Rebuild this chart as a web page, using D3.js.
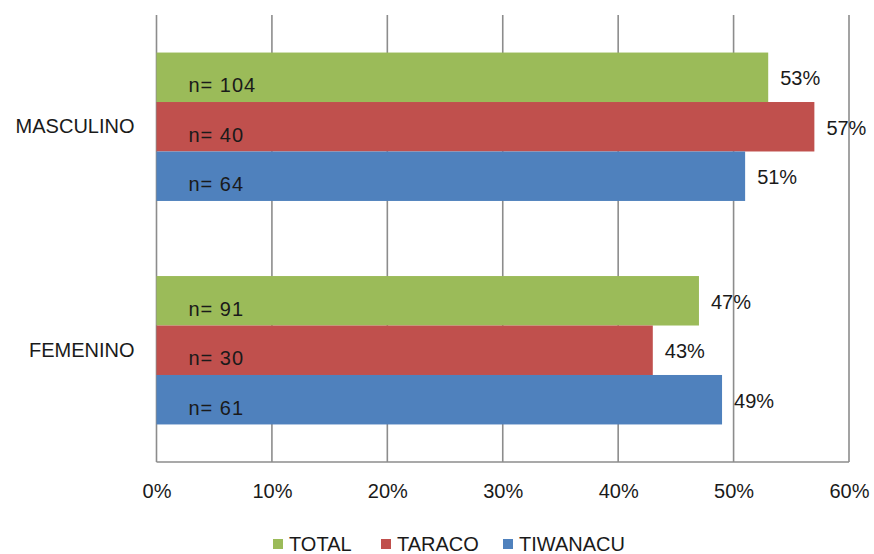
<!DOCTYPE html>
<html><head><meta charset="utf-8">
<script src="https://cdn.jsdelivr.net/npm/d3@7"></script>
<style>
html,body{margin:0;padding:0;background:#fff;}
svg text{font-family:"Liberation Sans",Arial,sans-serif;fill:#1a1a1a;}
</style></head>
<body>
<svg id="c" width="874" height="554"></svg>
<script>
const categories = ["MASCULINO", "FEMENINO"];
const series = ["TOTAL", "TARACO", "TIWANACU"];
const colors = ["#9BBB59", "#C0504D", "#4F81BD"];
const totalValues = [53, 47];
const taracoValues = [57, 43];
const tiwanacuValues = [51, 49];
const totalN = [104, 91];
const taracoN = [40, 30];
const tiwanacuN = [64, 61];
const xTicks = [0, 10, 20, 30, 40, 50, 60];

const valuesBySeries = [totalValues, taracoValues, tiwanacuValues];
const nBySeries = [totalN, taracoN, tiwanacuN];
const data = [];
categories.forEach((c, ci) => series.forEach((s, si) => data.push({cat: c, ser: s, v: valuesBySeries[si][ci], n: nBySeries[si][ci], color: colors[si]})));

const svg = d3.select("#c");
const L = 156.5, R = 849, T = 15, B = 462;
const x = d3.scaleLinear().domain([0, 60]).range([L, R]);
const y0 = d3.scaleBand().domain(categories).range([T, B]).paddingInner(0.336).paddingOuter(0.168);
const y1 = d3.scaleBand().domain(series).range([0, y0.bandwidth()]);

// gridlines
svg.append("g").selectAll("line").data(xTicks).join("line")
  .attr("x1", d => x(d)).attr("x2", d => x(d)).attr("y1", T).attr("y2", B)
  .attr("stroke", "#8c8c8c").attr("stroke-width", 1.6);
// bottom axis line
svg.append("line").attr("x1", L).attr("x2", R).attr("y1", B).attr("y2", B)
  .attr("stroke", "#8c8c8c").attr("stroke-width", 1.6);

// x axis labels
const xAxis = d3.axisBottom(x).tickValues(xTicks).tickFormat(d => d + "%").tickSize(0).tickPadding(22);
const gx = svg.append("g").attr("transform", `translate(0,${B})`).call(xAxis);
gx.select(".domain").remove();
gx.selectAll("text").attr("font-size", 20).attr("font-family", "Liberation Sans, Arial, sans-serif").attr("fill", "#1a1a1a");

// y axis labels
const yAxis = d3.axisLeft(y0).tickSize(0).tickPadding(22);
const gy = svg.append("g").attr("transform", `translate(${L},0)`).call(yAxis);
gy.select(".domain").remove();
gy.selectAll("text").attr("font-size", 20).attr("font-family", "Liberation Sans, Arial, sans-serif").attr("fill", "#1a1a1a");

// bars
svg.append("g").selectAll("rect").data(data).join("rect")
  .attr("x", x(0))
  .attr("y", d => y0(d.cat) + y1(d.ser))
  .attr("width", d => x(d.v) - x(0))
  .attr("height", y1.bandwidth())
  .attr("fill", d => d.color);

// value labels
svg.append("g").selectAll("text").data(data).join("text")
  .attr("x", d => x(d.v) + 12)
  .attr("y", d => y0(d.cat) + y1(d.ser) + y1.bandwidth() / 2 + 1)
  .attr("dy", "0.35em")
  .attr("font-size", 20)
  .text(d => d.v + "%");

// n labels
svg.append("g").selectAll("text").data(data).join("text")
  .attr("x", x(0) + 32)
  .attr("y", d => y0(d.cat) + y1(d.ser) + y1.bandwidth() / 2 + 8)
  .attr("dy", "0.35em")
  .attr("font-size", 20)
  .attr("letter-spacing", 1)
  .text(d => "n= " + d.n);

// legend
const legendX = [273, 381, 503];
const lg = svg.append("g").selectAll("g").data(series).join("g")
  .attr("transform", (d, i) => `translate(${legendX[i]},544)`);
lg.append("rect").attr("x", 0).attr("y", -5).attr("width", 10).attr("height", 10).attr("fill", (d, i) => colors[i]);
lg.append("text").attr("x", 16).attr("y", 0).attr("dy", "0.35em").attr("font-size", 20).text(d => d);
</script>
</body></html>
